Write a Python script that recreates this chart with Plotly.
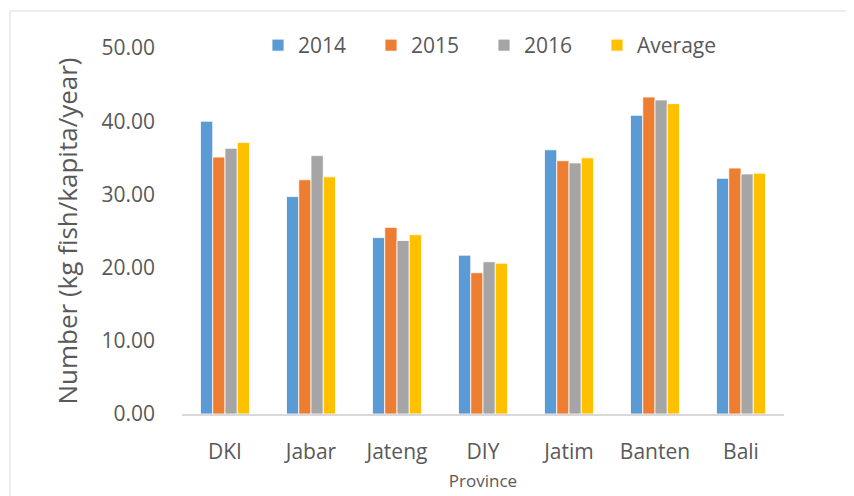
import plotly.graph_objects as go

provinces = ["DKI", "Jabar", "Jateng", "DIY", "Jatim", "Banten", "Bali"]
v2014 = [40.0, 29.7, 24.1, 21.7, 36.1, 40.8, 32.2]
v2015 = [35.1, 32.0, 25.5, 19.3, 34.6, 43.3, 33.6]
v2016 = [36.3, 35.3, 23.7, 20.8, 34.3, 42.9, 32.8]
vavg = [37.1, 32.4, 24.5, 20.6, 35.0, 42.4, 32.9]
series_names = ["2014", "2015", "2016", "Average"]
colors = ["#5B9BD5", "#ED7D31", "#A5A5A5", "#FFC000"]
y_ticks = [0, 10, 20, 30, 40, 50]

FONT = "Open Sans"
TXT = "#595959"

fig = go.Figure()
for name, vals, col in zip(series_names, [v2014, v2015, v2016, vavg], colors):
    fig.add_trace(go.Bar(
        x=provinces, y=vals, name=name,
        marker=dict(color=col, line=dict(color="white", width=0.8)),
    ))
# invisible spacer entry so the last legend label is not clipped
fig.add_trace(go.Scatter(
    x=[None], y=[None], mode="markers", name=" ",
    marker=dict(color="rgba(0,0,0,0)"), hoverinfo="skip", showlegend=True,
))

# page body has an 8px margin: figure is 846x488 so it fills the 854x496 view
OFF = 8
W, H = 854 - OFF, 496 - OFF
L, R, T, B = 182 - OFF, 70, 48 - OFF, 82
pw, ph = W - L - R, H - T - B
base = H - B  # pixel row of y=0 in figure coords

fig.update_layout(
    width=W, height=H,
    margin=dict(l=L, r=R, t=T, b=B, autoexpand=False),
    paper_bgcolor="white", plot_bgcolor="white",
    barmode="group", bargap=0.43, bargroupgap=0,
    font=dict(family=FONT, color=TXT, size=21),
    legend=dict(
        orientation="h", x=(258 - OFF - L) / pw, xanchor="left",
        y=(base - (28 - OFF) + 3) / ph, yanchor="top",
        font=dict(size=21, color=TXT), entrywidth=68,
        bgcolor="rgba(0,0,0,0)",
        traceorder="normal",
    ),
    xaxis=dict(
        showgrid=False, showline=True, linecolor="#D9D9D9", linewidth=2,
        ticks="", tickfont=dict(size=21, color=TXT), ticklabelstandoff=18,
        title=dict(text="Province", font=dict(size=17, color=TXT), standoff=11),
    ),
    yaxis=dict(
        range=[0, 50], tickvals=y_ticks, tickformat=".2f",
        showgrid=False, showline=False, zeroline=False, ticks="",
        tickfont=dict(size=21, color=TXT), ticklabelstandoff=26,
        title=dict(text="Number (kg fish/kapita/year)", font=dict(size=26, color=TXT), standoff=16),
    ),
    shapes=[dict(
        type="rect", xref="paper", yref="paper",
        x0=(10 - OFF - L) / pw, x1=(W + 20 - L) / pw,
        y0=(base - (H + 20)) / ph, y1=(base - (11 - OFF)) / ph,
        line=dict(color="#D9D9D9", width=1), fillcolor="rgba(0,0,0,0)", layer="below",
    )],
)

fig.write_html("out.html")
